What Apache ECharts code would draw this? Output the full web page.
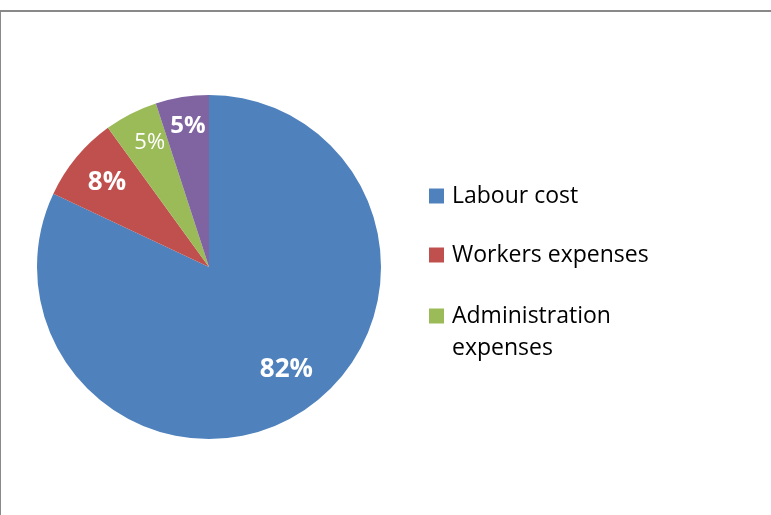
<!DOCTYPE html>
<html>
<head>
<meta charset="utf-8">
<script src="https://cdn.jsdelivr.net/npm/echarts@6/dist/echarts.min.js"></script>
<style>
html,body{margin:0;padding:0;background:#fff;}
#chart{width:771px;height:515px;}
</style>
</head>
<body>
<div id="chart"></div>
<script>
const categories = ['Labour cost', 'Workers expenses', 'Administration expenses', 'Other expenses'];
const values = [82, 8, 5, 5];
const colors = ['#4F81BD', '#C0504D', '#9BBB59', '#8064A2'];
const legendMain = ['Labour cost', 'Workers expenses'];
const legendWrapped = ['Administration expenses'];

const FONT = '"Open Sans", "Noto Sans", sans-serif';
const labelFonts = [
  {fontSize: 26, fontWeight: 'bold'},
  {fontSize: 26, fontWeight: 'bold'},
  {fontSize: 22, fontWeight: 'normal'},
  {fontSize: 24, fontWeight: 'bold'}
];
// small nudges of the library-placed labels
const labelNudge = [[5, -11], [2, 2], [2, -3.5], [0, -8]];

const chart = echarts.init(document.getElementById('chart'), null, {renderer: 'canvas'});

const mainData = categories.map((n, i) => ({name: n, value: values[i], itemStyle: {color: colors[i]}}));
const labelData = categories.map((n, i) => ({
  name: n, value: values[i],
  label: Object.assign({show: true, position: 'inside', color: '#fff', fontFamily: FONT, formatter: '{d}%'}, labelFonts[i])
}));

chart.setOption({
  animation: false,
  backgroundColor: '#fff',
  graphic: [
    {type: 'line', shape: {x1: 0, y1: 11, x2: 771, y2: 11}, style: {stroke: '#898989', lineWidth: 2}, silent: true},
    {type: 'line', shape: {x1: 0.5, y1: 10, x2: 0.5, y2: 515}, style: {stroke: '#898989', lineWidth: 1}, silent: true}
  ],
  legend: [
    {
      orient: 'vertical', left: 429, top: 180, padding: 0,
      itemWidth: 15, itemHeight: 15, itemGap: 27,
      icon: 'rect', selectedMode: false,
      data: legendMain,
      textStyle: {fontFamily: FONT, fontSize: 23, color: '#000', lineHeight: 32, padding: [0, 0, 0, 3]}
    },
    {
      orient: 'vertical', left: 429, top: 268, padding: 0,
      itemWidth: 15, itemHeight: 15,
      icon: 'rect', selectedMode: false,
      data: legendWrapped,
      formatter: function (name) { return '\n' + name.replace(' ', '\n'); },
      textStyle: {fontFamily: FONT, fontSize: 23, color: '#000', lineHeight: 32, padding: [0, 0, 0, 3]}
    }
  ],
  series: [
    {
      type: 'pie',
      center: [209, 267],
      radius: [0, 172],
      startAngle: 90,
      clockwise: true,
      percentPrecision: 0,
      label: {show: false},
      labelLine: {show: false},
      emphasis: {disabled: true},
      itemStyle: {borderWidth: 0},
      data: mainData
    },
    {
      type: 'pie',
      center: [209, 267],
      radius: [0, 264],
      startAngle: 90,
      clockwise: true,
      percentPrecision: 0,
      silent: true,
      labelLine: {show: false},
      emphasis: {disabled: true},
      itemStyle: {color: 'rgba(0,0,0,0)', borderWidth: 0},
      labelLayout: function (p) {
        const n = labelNudge[p.dataIndex];
        return {dx: n[0], dy: n[1]};
      },
      data: labelData
    }
  ]
});
</script>
</body>
</html>
